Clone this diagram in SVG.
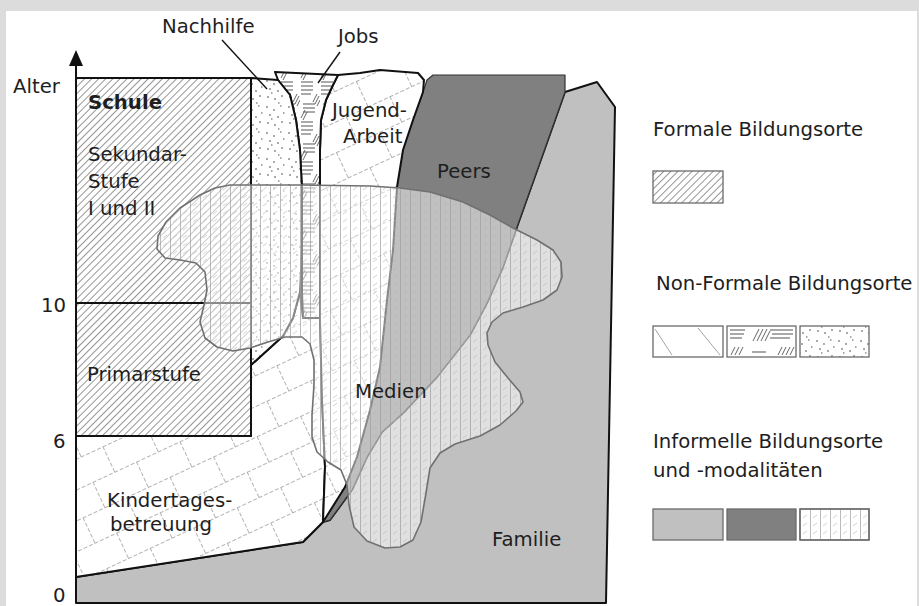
<svg xmlns="http://www.w3.org/2000/svg" width="919" height="606" viewBox="0 0 919 606">
<defs>
<style>
text{font-family:"DejaVu Sans","Liberation Sans",sans-serif;font-size:19.7px;fill:#1e1e1e}
.b{font-weight:bold}
.ol{stroke:#111;stroke-width:2;stroke-linejoin:round}
.lg{stroke:#6a6a6a;stroke-width:1.3}
</style>
<pattern id="hatch" width="5" height="5" patternUnits="userSpaceOnUse" patternTransform="rotate(45)">
<rect width="5" height="5" fill="#fff"/>
<line x1="0.5" y1="0" x2="0.5" y2="5" stroke="#7a7a7a" stroke-width="0.8"/>
</pattern>
<pattern id="dots" width="22" height="26" patternUnits="userSpaceOnUse">
<rect width="22" height="26" fill="#fff"/>
<path d="M2,3h2M9,6h2M16,2h1.5M5,11h2M13,13h2M19,9h1.5M3,19h2M10,21h2M17,18h2M7,15h1.5M14,25h1.5" stroke="#555" stroke-width="1.2" fill="none"/>
</pattern>
<pattern id="jobs" width="20" height="40" patternUnits="userSpaceOnUse">
<rect width="20" height="40" fill="#fff"/>
<path d="M1,2h12M1,6h12M1,10h12M1,14h10M3,24h12M3,28h12M3,32h12" stroke="#555" stroke-width="1" fill="none"/>
<path d="M13,22l4,-8M15,24l4,-8M17,26l3,-6M1,38l4,-8M3,40l4,-8" stroke="#555" stroke-width="0.9" fill="none"/>
</pattern>
<pattern id="brick" width="48" height="56" patternUnits="userSpaceOnUse" patternTransform="rotate(-25)">
<rect width="48" height="56" fill="#fff"/>
<path d="M0,0.5H48M0,28.5H48M0.5,0V28M24.5,28V56" stroke="#a5a5a5" stroke-width="0.85" stroke-dasharray="4 2" fill="none"/>
</pattern>
<pattern id="medien" width="10" height="8" patternUnits="userSpaceOnUse">
<line x1="0.5" y1="0" x2="0.5" y2="8" stroke="#9c9c9c" stroke-width="0.7"/>
<line x1="3" y1="6" x2="7" y2="3" stroke="#b0b0b0" stroke-width="0.6"/>
</pattern>
</defs>

<rect width="919" height="606" fill="#dcdcdc"/>
<rect x="6" y="11" width="911" height="595" fill="#fff"/>

<g id="familie">
<path class="ol" fill="#c0c0c0" d="M76,603 L76,577 L303,542 L323,522 L330,520 L352,490 L367,457 L382,432 L403,413 L437,377 L470,335 L487,303 L503,267 L517,227 L565,92 L597,82 L615,107 L606,603 Z"/>
<text x="492" y="546">Familie</text>
</g>

<g id="peers">
<path fill="#808080" stroke="#333" stroke-width="1.2" stroke-linejoin="round" d="M433,75 L565,75 L565,92 L517,227 L503,267 L487,303 L470,335 L437,377 L403,413 L382,432 L367,457 L352,490 L330,520 L323,522 L345,487 L357,457 L370,410 L380,367 L387,300 L393,250 L397,187 L403,150 L413,120 L422,95 L427,80 Z"/>
<text x="437" y="178">Peers</text>
</g>

<g id="kita">
<path class="ol" fill="url(#brick)" d="M76,436 L251,436 L251,365 L283,336 L293,318 L300,292 L303,318 L320,318 L322,400 L325,467 L323,522 L303,542 L76,577 Z"/>
<text x="107" y="507">Kindertages-</text>
<text x="110" y="531">betreuung</text>
</g>

<g id="jugendarbeit">
<path class="ol" fill="url(#brick)" d="M338,75 L360,73 L380,70 L418,73 L424,80 L423,92 L413,120 L403,150 L397,187 L393,250 L387,300 L380,367 L370,410 L357,457 L345,487 L323,522 L325,467 L322,400 L320,320 L320,150 L321,120 L326,100 L333,85 Z"/>
<text x="332" y="117">Jugend-</text>
<text x="343" y="143">Arbeit</text>
</g>

<g id="jobs">
<path class="ol" fill="url(#jobs)" d="M275,72 L338,75 L333,85 L326,100 L321,120 L320,150 L320,318 L303,318 L302,292 L302,250 L302,190 L300,150 L296,120 L290,95 L278,80 Z"/>
<text x="338" y="43">Jobs</text>
</g>

<g id="nachhilfe">
<path class="ol" fill="url(#dots)" d="M251,78 L278,80 L290,95 L296,120 L300,150 L302,190 L302,250 L300,292 L293,318 L283,336 L251,365 Z"/>
<text x="162" y="33">Nachhilfe</text>
</g>

<g id="schule">
<rect class="ol" x="76" y="78" width="175" height="358" fill="url(#hatch)"/>
<line class="ol" x1="76" y1="303" x2="251" y2="303"/>
<text class="b" x="88" y="109">Schule</text>
<text x="88" y="161">Sekundar-</text>
<text x="88" y="188">Stufe</text>
<text x="88" y="215">I und II</text>
<text x="87" y="381">Primarstufe</text>
</g>

<g id="medien">
<path fill="#fff" fill-opacity="0.5" d="M230,185 L300,185 L370,186 L400,188 L430,192 L463,202 L490,215 L513,228 L537,240 L553,250 L561,262 L562,277 L557,290 L543,300 L523,307 L503,313 L492,322 L487,333 L488,345 L495,362 L508,378 L520,392 L523,402 L516,411 L500,425 L480,436 L455,444 L440,453 L430,468 L426,493 L421,522 L413,540 L400,547 L385,548 L367,541 L354,527 L349,505 L347,485 L341,470 L328,462 L317,452 L312,437 L312,415 L314,385 L314,360 L310,344 L302,337 L285,337 L268,342 L250,348 L233,351 L217,347 L205,338 L200,322 L204,305 L207,290 L205,272 L196,263 L180,260 L165,258 L157,249 L158,236 L166,222 L180,208 L200,195 L215,188 Z"/>
<path fill="url(#medien)" stroke="#707070" stroke-width="1.6" stroke-linejoin="round" d="M230,185 L300,185 L370,186 L400,188 L430,192 L463,202 L490,215 L513,228 L537,240 L553,250 L561,262 L562,277 L557,290 L543,300 L523,307 L503,313 L492,322 L487,333 L488,345 L495,362 L508,378 L520,392 L523,402 L516,411 L500,425 L480,436 L455,444 L440,453 L430,468 L426,493 L421,522 L413,540 L400,547 L385,548 L367,541 L354,527 L349,505 L347,485 L341,470 L328,462 L317,452 L312,437 L312,415 L314,385 L314,360 L310,344 L302,337 L285,337 L268,342 L250,348 L233,351 L217,347 L205,338 L200,322 L204,305 L207,290 L205,272 L196,263 L180,260 L165,258 L157,249 L158,236 L166,222 L180,208 L200,195 L215,188 Z"/>
<text x="355" y="398">Medien</text>
</g>

<g id="axis">
<line x1="76" y1="62" x2="76" y2="603" stroke="#111" stroke-width="2"/>
<line x1="76" y1="603" x2="606" y2="603" stroke="#111" stroke-width="2"/>
<polygon points="69,66 76,50 83,66" fill="#111"/>
<text x="13" y="93">Alter</text>
<text x="41" y="312">10</text>
<text x="53" y="448">6</text>
<text x="53" y="602">0</text>
</g>

<g id="connectors" stroke="#111" stroke-width="1.4" fill="none">
<line x1="222" y1="40" x2="267" y2="89"/>
<line x1="340" y1="52" x2="318" y2="83"/>
</g>

<g id="legend">
<text x="653" y="136">Formale Bildungsorte</text>
<rect class="lg" x="653" y="171" width="70" height="32" fill="url(#hatch)"/>
<text x="656" y="290">Non-Formale Bildungsorte</text>
<rect class="lg" x="653" y="326" width="70" height="31" fill="#fff"/>
<path d="M655,329 L672,355 M698,328 L720,355" stroke="#999" stroke-width="0.9" fill="none"/>
<rect class="lg" x="727" y="326" width="69" height="31" fill="#fff"/>
<path d="M730,330h15M730,334h14M730,338h12M770,330h23M772,334h21M770,338h20M752,352h14" stroke="#555" stroke-width="1.1" fill="none"/>
<path d="M753,341l6,-12M757,341l6,-12M761,341l6,-12M765,341l5,-10M731,355l4,-8M735,355l4,-8M739,355l4,-8M778,355l4,-8M782,355l4,-8M786,355l4,-8M790,355l4,-8" stroke="#555" stroke-width="0.9" fill="none"/>
<rect class="lg" x="800" y="326" width="69" height="31" fill="url(#dots)"/>
<text x="653" y="448">Informelle Bildungsorte</text>
<text x="653" y="477">und -modalitäten</text>
<rect class="lg" x="653" y="509" width="70" height="31" fill="#c0c0c0"/>
<rect class="lg" x="727" y="509" width="69" height="31" fill="#808080"/>
<rect class="lg" x="800" y="509" width="69" height="31" fill="#fff"/>
<rect x="800" y="509" width="69" height="31" fill="url(#medien)" stroke="#6a6a6a" stroke-width="1.3"/>
</g>
</svg>
